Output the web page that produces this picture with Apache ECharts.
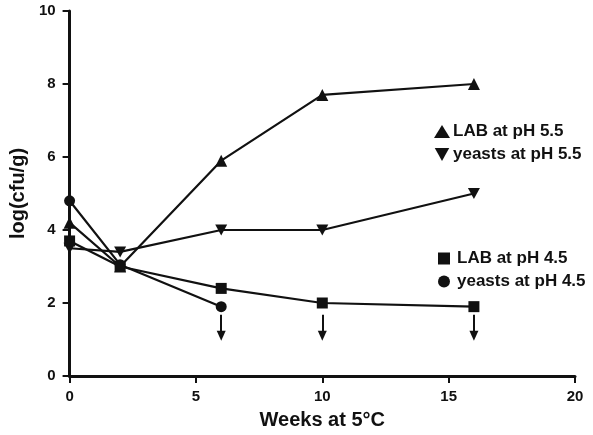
<!DOCTYPE html>
<html>
<head>
<meta charset="utf-8">
<script src="https://cdn.jsdelivr.net/npm/echarts@6/dist/echarts.min.js"></script>
<style>html,body{margin:0;padding:0;background:#fff}#c{width:593px;height:435px}</style>
</head>
<body>
<div id="c"></div>
<script>
const weeks = [0, 2, 6, 10, 16];
const weeksYeast45 = [0, 2, 6];
const labPH55 = [4.2, 3.0, 5.9, 7.7, 8.0];
const yeastsPH55 = [3.5, 3.4, 4.0, 4.0, 5.0];
const labPH45 = [3.7, 3.0, 2.4, 2.0, 1.9];
const yeastsPH45 = [4.8, 3.05, 1.9];
const belowLimitWeeks = [6, 10, 16];
const arrowFrom = 1.68;
const arrowTo = 1.1;
const xTicks = [0, 5, 10, 15, 20];
const yTicks = [0, 2, 4, 6, 8, 10];

const FONT = '"Liberation Sans", Arial, Helvetica, sans-serif';
const INK = '#111';
const DOWN_TRI = 'path://M0,0L10,0L5,9Z';

function pairs(xs, ys) { return xs.map((x, i) => [x, ys[i]]); }

const chart = echarts.init(document.getElementById('c'), null, {renderer: 'canvas'});
const base = {
  type: 'line',
  lineStyle: {color: INK, width: 2.2},
  itemStyle: {color: INK},
  emphasis: {disabled: true},
  z: 3
};
chart.setOption({
  animation: false,
  backgroundColor: '#fff',
  grid: {left: 68, right: 18, top: 11, bottom: 57, containLabel: false},
  xAxis: {
    type: 'value', min: 0, max: 20, interval: 5,
    name: 'Weeks at 5°C', nameLocation: 'middle', nameGap: 34,
    nameTextStyle: {fontFamily: FONT, fontWeight: 'bold', fontSize: 20, color: INK},
    axisLine: {lineStyle: {color: INK, width: 3}},
    axisTick: {show: true, length: 7, lineStyle: {color: INK, width: 2}},
    axisLabel: {fontFamily: FONT, fontWeight: 'bold', fontSize: 15, color: INK, margin: 13,
      formatter: v => xTicks.includes(v) ? String(v) : ''},
    splitLine: {show: false}
  },
  yAxis: {
    type: 'value', min: 0, max: 10, interval: 2,
    name: 'log(cfu/g)', nameLocation: 'middle', nameGap: 37, nameRotate: 90,
    nameTextStyle: {fontFamily: FONT, fontWeight: 'bold', fontSize: 20, color: INK},
    axisLine: {show: true, lineStyle: {color: INK, width: 3}},
    axisTick: {show: true, length: 7, lineStyle: {color: INK, width: 2}},
    axisLabel: {fontFamily: FONT, fontWeight: 'bold', fontSize: 15, color: INK, margin: 14,
      formatter: v => yTicks.includes(v) ? String(v) : ''},
    splitLine: {show: false}
  },
  legend: [
    {
      orient: 'vertical', left: 429, top: 118, itemGap: 6, itemWidth: 16, itemHeight: 13,
      textStyle: {fontFamily: FONT, fontWeight: 'bold', fontSize: 17, color: INK, padding: [0,0,0,-2]},
      selectedMode: false,
      data: [{name: 'LAB at pH 5.5', icon: 'triangle'}, {name: 'yeasts at pH 5.5', icon: DOWN_TRI}]
    },
    {
      orient: 'vertical', left: 433, top: 245, itemGap: 6, itemWidth: 12, itemHeight: 12,
      textStyle: {fontFamily: FONT, fontWeight: 'bold', fontSize: 17, color: INK, padding: [0,0,0,2]},
      selectedMode: false,
      data: [{name: 'LAB at pH 4.5', icon: 'rect'}, {name: 'yeasts at pH 4.5', icon: 'circle'}]
    }
  ],
  series: [
    Object.assign({}, base, {name: 'LAB at pH 5.5', data: pairs(weeks, labPH55), symbol: 'triangle', symbolSize: 12}),
    Object.assign({}, base, {name: 'yeasts at pH 5.5', data: pairs(weeks, yeastsPH55), symbol: DOWN_TRI, symbolSize: [12, 11]}),
    Object.assign({}, base, {name: 'LAB at pH 4.5', data: pairs(weeks, labPH45), symbol: 'rect', symbolSize: 11}),
    Object.assign({}, base, {name: 'yeasts at pH 4.5', data: pairs(weeksYeast45, yeastsPH45), symbol: 'circle', symbolSize: 11,
      markLine: {
        silent: true, animation: false,
        symbol: ['none', 'triangle'], symbolSize: [9, 10], symbolRotate: 180,
        label: {show: false},
        lineStyle: {color: INK, width: 2, type: 'solid'},
        data: belowLimitWeeks.map(w => [{coord: [w, arrowFrom]}, {coord: [w, arrowTo]}])
      }})
  ]
});
</script>
</body>
</html>
